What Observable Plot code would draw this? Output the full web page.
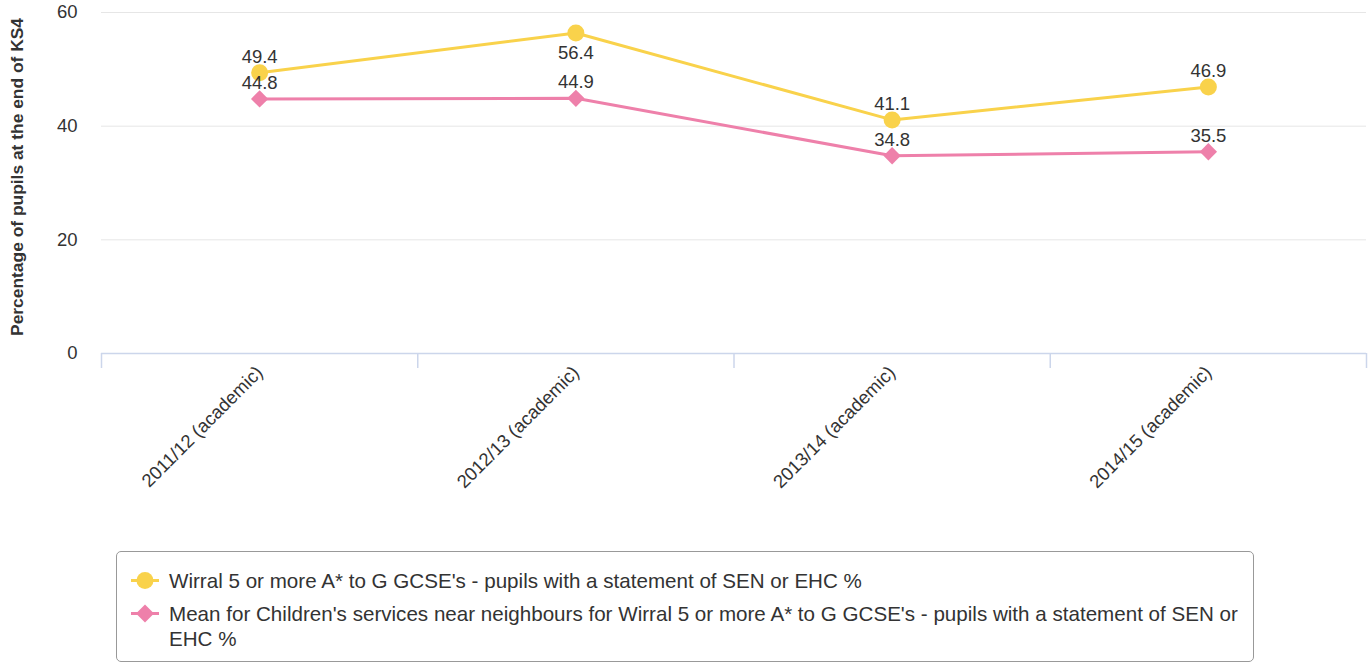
<!DOCTYPE html>
<html><head><meta charset="utf-8">
<script src="https://cdn.jsdelivr.net/npm/d3@7"></script>
<script src="https://cdn.jsdelivr.net/npm/@observablehq/plot@0.6"></script>
<style>
body{margin:0;background:#fff;font-family:"Liberation Sans",Arial,sans-serif;}
#chart{position:absolute;left:0;top:0;}
#legend{position:absolute;left:116px;top:551px;width:1138px;height:111px;box-sizing:border-box;border:1px solid #999;border-radius:5px;background:#fff;}
.item{position:absolute;left:14px;display:flex;align-items:flex-start;color:#333;font-size:20.6px;line-height:25px;}
.item svg{flex:none;margin-right:10px;}
.item span{width:1085px;}
</style></head>
<body><div id="chart"></div><div id="legend"></div>
<script>
const categories = ["2011/12 (academic)", "2012/13 (academic)", "2013/14 (academic)", "2014/15 (academic)"];
const wirralValues = [49.4, 56.4, 41.1, 46.9];
const neighbourValues = [44.8, 44.9, 34.8, 35.5];
const seriesNames = [
  "Wirral 5 or more A* to G GCSE's - pupils with a statement of SEN or EHC %",
  "Mean for Children's services near neighbours for Wirral 5 or more A* to G GCSE's - pupils with a statement of SEN or EHC %"
];
const seriesColors = ["#f9d24b", "#ee80aa"];
const yTicks = [0, 20, 40, 60];
const yLabel = "Percentage of pupils at the end of KS4";

const wirral = categories.map((c, i) => ({i, cat: c, value: wirralValues[i], series: seriesNames[0]}));
const neigh = categories.map((c, i) => ({i, cat: c, value: neighbourValues[i], series: seriesNames[1]}));
const all = wirral.concat(neigh);
const X = d => d.i + 0.5;
const bandEdges = d3.range(categories.length + 1);
const bandCenters = categories.map((c, i) => i + 0.5);

const chart = Plot.plot({
  width: 1372, height: 540,
  marginLeft: 101, marginRight: 6, marginTop: 12, marginBottom: 187,
  style: {fontFamily: '"Liberation Sans", Arial, sans-serif', color: "#333", background: "#fff"},
  x: {type: "linear", domain: [0, categories.length]},
  y: {domain: [0, 60]},
  color: {domain: seriesNames, range: seriesColors},
  marks: [
    Plot.gridY(yTicks, {stroke: "#e6e6e6", strokeOpacity: 1}),
    Plot.axisY(yTicks, {tickSize: 0, tickPadding: 24, fontSize: 18.5, label: null, fill: "#333"}),
    Plot.text([yLabel], {frameAnchor: "left", dx: -84, dy: -6, rotate: -90, textAnchor: "middle", fontWeight: "bold", fontSize: 17.4, fill: "#333"}),
    Plot.ruleY([0], {stroke: "#ccd6eb", strokeWidth: 1.5}),
    Plot.axisX(bandEdges, {tickSize: 15, tickFormat: () => "", stroke: "#ccd6eb", strokeWidth: 1.5, label: null}),
    Plot.axisX(bandCenters, {tickSize: 0, tickPadding: 16, tickRotate: -45, fontSize: 18.5, tickFormat: d => categories[Math.floor(d)], label: null, fill: "#333"}),
    Plot.line(all, {x: X, y: "value", z: "series", stroke: "series", strokeWidth: 3}),
    Plot.dot(wirral, {x: X, y: "value", fill: "series", r: 8.5, symbol: "circle"}),
    Plot.dot(neigh, {x: X, y: "value", fill: "series", r: 7.8, symbol: "diamond2"}),
    Plot.text(all.filter(d => d.value <= 55), {x: X, y: "value", text: d => d.value.toFixed(1), dy: -16, fontSize: 18.5, fill: "#333"}),
    Plot.text(all.filter(d => d.value > 55), {x: X, y: "value", text: d => d.value.toFixed(1), dy: 20, fontSize: 18.5, fill: "#333"})
  ]
});
document.getElementById("chart").appendChild(chart);

const legend = document.getElementById("legend");
const tops = [16, 49];
seriesNames.forEach((name, k) => {
  const item = document.createElement("div");
  item.className = "item";
  item.style.top = tops[k] + "px";
  const sym = k === 0
    ? `<circle cx="14" cy="12.5" r="8.5" fill="${seriesColors[k]}"/>`
    : `<path d="M14 3.5 L23 12.5 L14 21.5 L5 12.5 Z" fill="${seriesColors[k]}"/>`;
  item.innerHTML = `<svg width="28" height="25"><line x1="0" x2="28" y1="12.5" y2="12.5" stroke="${seriesColors[k]}" stroke-width="3"/>${sym}</svg><span>${name}</span>`;
  legend.appendChild(item);
});
</script>
</body></html>
